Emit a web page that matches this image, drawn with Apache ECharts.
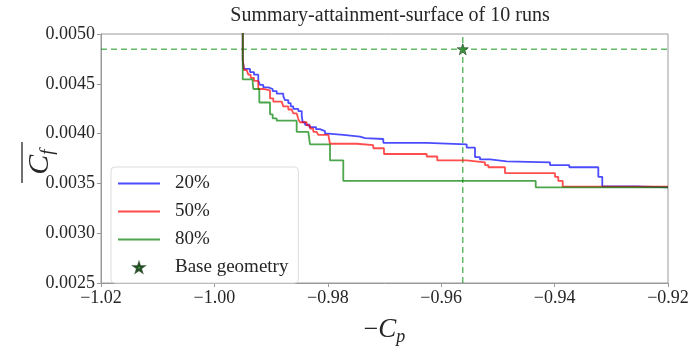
<!DOCTYPE html>
<html>
<head>
<meta charset="utf-8">
<script src="https://cdn.jsdelivr.net/npm/echarts@6/dist/echarts.min.js"></script>
<style>html,body{margin:0;padding:0;background:#fff}#c{width:692px;height:351px}</style>
</head>
<body>
<div id="c"></div>
<script>
// ---- data ----
var titleText = 'Summary-attainment-surface of 10 runs';
var seriesNames = ['20%', '50%', '80%', 'Base geometry'];
var xTicks = { min: -1.02, max: -0.92, interval: 0.02 };
var yTicks = { min: 0.0025, max: 0.0050, interval: 0.0005 };

var surface20 = [
  [-0.9950, 0.0052], [-0.9950, 0.004735], [-0.99478, 0.004649], [-0.99372, 0.004618],
  [-0.99302, 0.004592], [-0.99226, 0.004529], [-0.99196, 0.004490], [-0.99138, 0.004465],
  [-0.99049, 0.004448], [-0.98972, 0.004426], [-0.98901, 0.004401], [-0.98785, 0.004376],
  [-0.98755, 0.004337], [-0.98697, 0.004305], [-0.98654, 0.004273], [-0.98608, 0.004248],
  [-0.98520, 0.004226], [-0.98460, 0.004178], [-0.98443, 0.004114], [-0.98402, 0.004089],
  [-0.98326, 0.004066], [-0.98208, 0.004044], [-0.98138, 0.004025], [-0.98049, 0.003999],
  [-0.97991, 0.003987], [-0.97727, 0.003970], [-0.97432, 0.003955], [-0.97344, 0.003946],
  [-0.97021, 0.003907], [-0.96256, 0.003891], [-0.95550, 0.003859], [-0.95404, 0.003764],
  [-0.95316, 0.003741], [-0.95139, 0.003722], [-0.94845, 0.003712], [-0.94081, 0.003684],
  [-0.93741, 0.003662], [-0.93229, 0.003566], [-0.93159, 0.003470], [-0.92552, 0.003461],
  [-0.92000, 0.003461]
];
var surface50 = [
  [-0.9950, 0.0052], [-0.9950, 0.004735], [-0.99478, 0.004637], [-0.99430, 0.004624],
  [-0.99402, 0.004592], [-0.99360, 0.004560], [-0.99302, 0.004529], [-0.99226, 0.004448],
  [-0.99138, 0.004433], [-0.99019, 0.004353], [-0.98961, 0.004321], [-0.98813, 0.004305],
  [-0.98785, 0.004273], [-0.98697, 0.004242], [-0.98637, 0.004226], [-0.98608, 0.004204],
  [-0.98549, 0.004194], [-0.98520, 0.004146], [-0.98490, 0.004114], [-0.98372, 0.004082],
  [-0.98314, 0.004051], [-0.98256, 0.004018], [-0.98196, 0.004003], [-0.98168, 0.003987],
  [-0.97991, 0.003980], [-0.97961, 0.003898], [-0.97490, 0.003884], [-0.97198, 0.003853],
  [-0.97009, 0.003795], [-0.96256, 0.003770], [-0.96069, 0.003731], [-0.95550, 0.003712],
  [-0.95228, 0.003684], [-0.95169, 0.003662], [-0.94875, 0.003604], [-0.93993, 0.003566],
  [-0.93935, 0.003525], [-0.93857, 0.003468], [-0.92000, 0.003465]
];
var surface80 = [
  [-0.9950, 0.0052], [-0.9950, 0.004544], [-0.99325, 0.004512], [-0.99314, 0.004448],
  [-0.99208, 0.004312], [-0.99019, 0.004194], [-0.98972, 0.004152], [-0.98901, 0.004130],
  [-0.98549, 0.004018], [-0.98344, 0.004003], [-0.98314, 0.003891], [-0.97961, 0.003731],
  [-0.97727, 0.003525], [-0.94333, 0.003461], [-0.92000, 0.003461]
];
var baseGeometry = [-0.9562, 0.004847];

// ---- chart ----
var serif = '"Liberation Serif", "DejaVu Serif", serif';
var txt = '#262626';
var chart = echarts.init(document.getElementById('c'), null, { renderer: 'canvas' });

function stepSeries(name, data, color) {
  return {
    name: name, type: 'line', data: data, step: 'end', showSymbol: false, symbol: 'none',
    lineStyle: { color: color, width: 1.8 }, itemStyle: { color: color },
    clip: true, animation: false, silent: true
  };
}
function guideSeries(data) {
  return {
    type: 'line', data: data, showSymbol: false, symbol: 'none', silent: true, clip: true,
    lineStyle: { color: 'rgba(0,140,0,0.6)', type: [6, 4], width: 1.5 }, z: 1
  };
}

var legendData = seriesNames.map(function (n, i) {
  return i < 3 ? { name: n, itemStyle: { opacity: 0 } } : { name: n };
});

chart.setOption({
  animation: false,
  backgroundColor: '#fff',
  title: {
    text: titleText, left: 385, textAlign: 'center', top: 1,
    textStyle: { fontFamily: serif, fontWeight: 'normal', fontSize: 20, color: txt }
  },
  grid: { left: 101, right: 24, top: 34, bottom: 55.5, show: true, borderColor: '#9a9a9a', borderWidth: 1 },
  legend: {
    orient: 'vertical', left: 111, top: 167,
    data: legendData,
    itemWidth: 42, itemHeight: 9, itemGap: 9,
    padding: [7, 10, 6, 6],
    backgroundColor: 'rgba(255,255,255,0.85)', borderColor: '#dddddd', borderWidth: 1, borderRadius: 4,
    textStyle: { fontFamily: serif, fontSize: 19, color: txt, lineHeight: 19, padding: [0, 0, 0, 10] }
  },
  xAxis: {
    type: 'value', min: xTicks.min, max: xTicks.max, interval: xTicks.interval,
    name: '{m|\u2212}{c|C}{s|p}', nameLocation: 'middle', nameGap: 31,
    nameTextStyle: {
      rich: {
        m: { fontFamily: serif, fontSize: 26, color: txt },
        c: { fontFamily: serif, fontStyle: 'italic', fontSize: 27, color: txt },
        s: { fontFamily: serif, fontStyle: 'italic', fontSize: 18, color: txt, padding: [14, 0, 0, 0] }
      }
    },
    axisLine: { show: true, lineStyle: { color: '#9a9a9a', width: 1 } },
    axisTick: { show: true, length: 4, lineStyle: { color: '#9a9a9a' } },
    splitLine: { show: false },
    axisLabel: {
      margin: 6, fontFamily: serif, fontSize: 18, color: txt,
      formatter: function (v) { var s = v.toFixed(2); return s.replace('-', '\u2212'); }
    }
  },
  yAxis: {
    type: 'value', min: yTicks.min, max: yTicks.max, interval: yTicks.interval,
    axisLine: { show: true, lineStyle: { color: '#9a9a9a', width: 1 } },
    axisTick: { show: true, length: 4, lineStyle: { color: '#9a9a9a' } },
    splitLine: { show: false },
    axisLabel: {
      margin: 6, fontFamily: serif, fontSize: 18, color: txt,
      formatter: function (v) { return v.toFixed(4); }
    }
  },
  graphic: [
    {
      type: 'text', x: 40, y: 162, rotation: Math.PI / 2, silent: true,
      style: {
        text: '{c|C}{s|f}', align: 'center', verticalAlign: 'middle',
        rich: {
          c: { fontFamily: serif, fontStyle: 'italic', fontSize: 30, fill: txt, color: txt },
          s: { fontFamily: serif, fontStyle: 'italic', fontSize: 19, fill: txt, color: txt, padding: [16, 0, 0, 0] }
        }
      }
    },
    {
      type: 'line', silent: true,
      shape: { x1: 22, y1: 142, x2: 22, y2: 183 },
      style: { stroke: txt, lineWidth: 1.3 }
    }
  ],
  series: [
    guideSeries([[xTicks.min, baseGeometry[1]], [xTicks.max, baseGeometry[1]]]),
    guideSeries([[baseGeometry[0], yTicks.min], [baseGeometry[0], yTicks.max]]),
    stepSeries(seriesNames[0], surface20, 'rgba(0,0,255,0.7)'),
    stepSeries(seriesNames[1], surface50, 'rgba(255,0,0,0.7)'),
    stepSeries(seriesNames[2], surface80, 'rgba(0,128,0,0.7)'),
    {
      name: seriesNames[3], type: 'scatter', data: [baseGeometry],
      symbol: 'path://M50,0 L61.8,35.4 L100,35.4 L69.1,57.3 L80.9,95.1 L50,72.5 L19.1,95.1 L30.9,57.3 L0,35.4 L38.2,35.4 Z',
      symbolSize: 11, z: 5,
      itemStyle: { color: '#2a8a2a', borderColor: '#0d330d', borderWidth: 0.8 }
    }
  ]
});
</script>
</body>
</html>
